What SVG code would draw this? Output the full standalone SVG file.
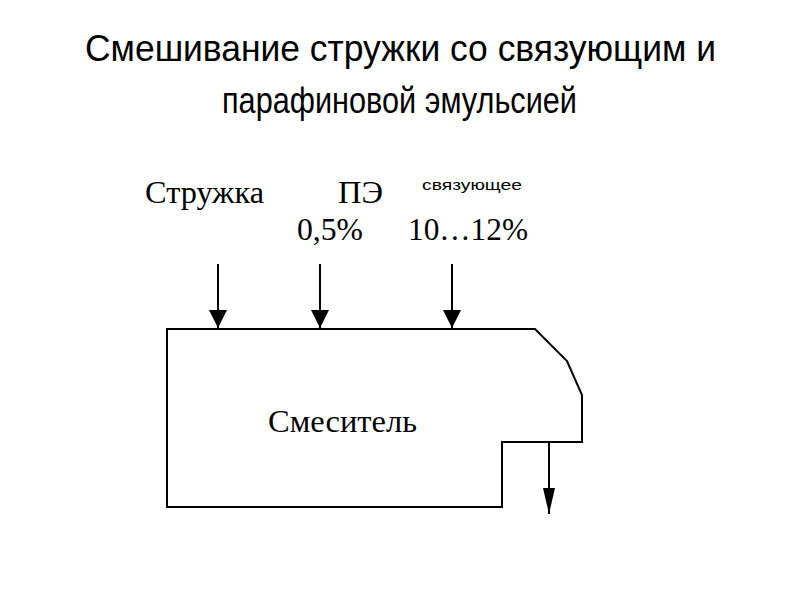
<svg xmlns="http://www.w3.org/2000/svg" width="800" height="600" viewBox="0 0 800 600">
<style>
.title{font-family:"Liberation Sans",Arial,sans-serif;font-size:36px;fill:#000}
.serif{font-family:"Liberation Serif","Times New Roman",serif;font-size:32px;fill:#000}
.small{font-family:"Liberation Sans",Arial,sans-serif;font-size:15px;fill:#000}
.line{stroke:#000;stroke-width:2;fill:none}
</style>
<defs>
<marker id="arrBig" markerWidth="18" markerHeight="18" refX="18" refY="9" orient="auto" markerUnits="userSpaceOnUse" viewBox="0 0 18 18">
<path d="M0,0 L18,9 L0,18 Z" fill="#000"/>
</marker>
<marker id="arrOut" markerWidth="26" markerHeight="12" refX="26" refY="6" orient="auto" markerUnits="userSpaceOnUse" viewBox="0 0 26 12">
<path d="M0,0 L26,6 L0,12 Z" fill="#000"/>
</marker>
</defs>
<rect width="800" height="600" fill="#fff"/>
<g id="title">
<text class="title" x="85" y="61" textLength="631" lengthAdjust="spacingAndGlyphs">Смешивание стружки со связующим и</text>
<text class="title" x="222" y="113" textLength="355" lengthAdjust="spacingAndGlyphs">парафиновой эмульсией</text>
</g>
<g id="labels">
<text class="serif" x="145" y="203" textLength="119" lengthAdjust="spacingAndGlyphs">Стружка</text>
<text class="serif" x="338" y="203" textLength="45" lengthAdjust="spacingAndGlyphs">ПЭ</text>
<text class="small" x="422" y="190" textLength="100" lengthAdjust="spacingAndGlyphs">связующее</text>
<text class="serif" x="297" y="240" textLength="66" lengthAdjust="spacingAndGlyphs">0,5%</text>
<text class="serif" x="408" y="240" textLength="120" lengthAdjust="spacingAndGlyphs">10…12%</text>
</g>
<g id="mixer">
<path class="line" d="M167,329 L535,329 L567,361 L582,395 L582,442 L502,442 L502,507 L167,507 Z"/>
<text class="serif" x="268" y="432" textLength="149" lengthAdjust="spacingAndGlyphs">Смеситель</text>
</g>
<g id="connectors">
<line class="line" x1="218" y1="264" x2="218" y2="328" marker-end="url(#arrBig)"/>
<line class="line" x1="320" y1="264" x2="320" y2="328" marker-end="url(#arrBig)"/>
<line class="line" x1="452" y1="264" x2="452" y2="328" marker-end="url(#arrBig)"/>
<line class="line" x1="549" y1="442" x2="549" y2="514" marker-end="url(#arrOut)"/>
</g>
</svg>
